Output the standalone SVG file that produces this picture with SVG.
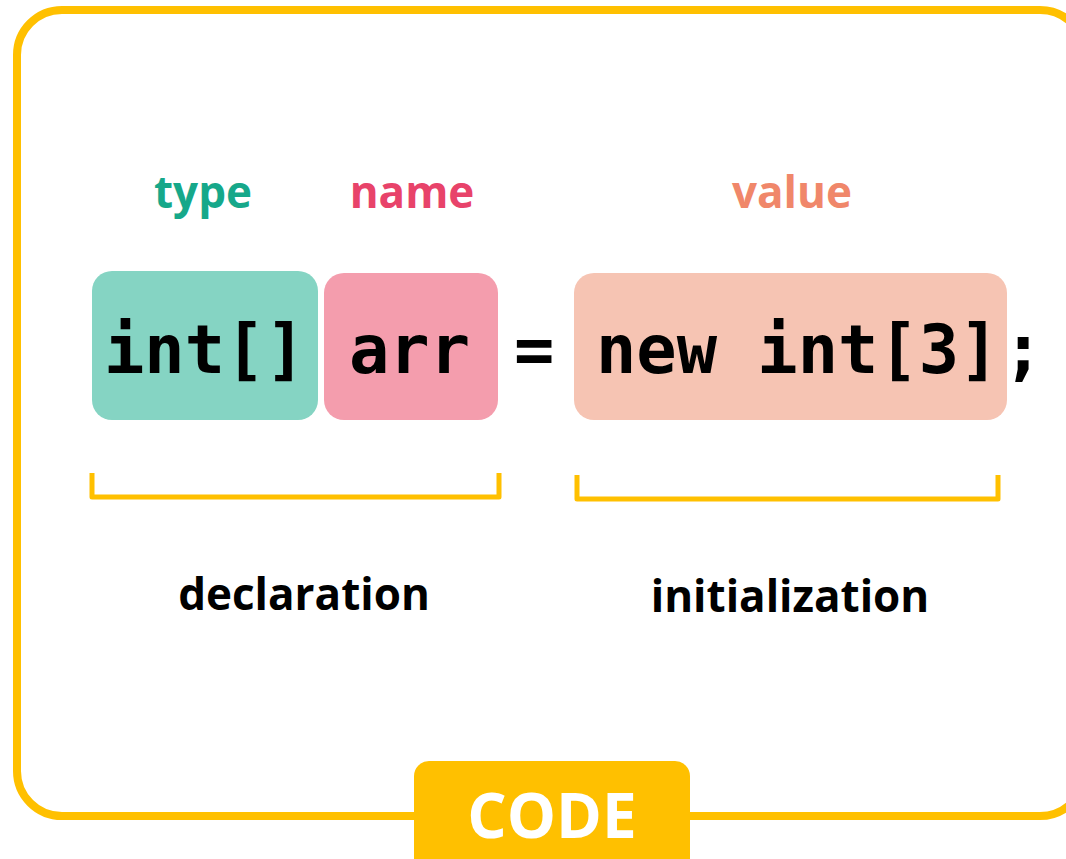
<svg xmlns="http://www.w3.org/2000/svg" width="1066" height="859" viewBox="0 0 1066 859">
<style>
.lbl{font-family:"Open Sans","Liberation Sans",sans-serif;font-weight:700;font-size:44px;text-anchor:middle}
.code{font-family:"DejaVu Sans Mono","Liberation Mono",monospace;font-weight:700;font-size:67px;fill:#000}
.br{fill:none;stroke:#FFC000;stroke-width:5;stroke-linejoin:round}
</style>
<rect width="1066" height="859" fill="#fff"/>
<g id="frame">
<rect x="17" y="10" width="1068" height="806" rx="45" fill="none" stroke="#FFC000" stroke-width="8"/>
</g>
<g id="type">
<rect x="92" y="271" width="226" height="149" rx="20" fill="#85D4C3"/>
<text class="lbl" x="203" y="208" fill="#16A88A">type</text>
<text class="code" x="104" y="373">int[]</text>
</g>
<g id="name">
<rect x="324" y="273" width="174" height="147" rx="20" fill="#F49DAD"/>
<text class="lbl" x="412" y="208" fill="#E8436A">name</text>
<text class="code" x="349" y="373">arr</text>
</g>
<g id="equals">
<text class="code" x="514" y="373">=</text>
</g>
<g id="value">
<rect x="574" y="273" width="433" height="147" rx="20" fill="#F6C4B3"/>
<text class="lbl" x="792" y="208" fill="#F0876A">value</text>
<text class="code" x="596" y="373">new int[3]</text>
<text class="code" x="1003" y="373">;</text>
</g>
<g id="connectors">
<path class="br" d="M92 473 V497 H499 V473"/>
<path class="br" d="M577 475 V499 H998 V475"/>
</g>
<g id="declaration">
<text class="lbl" x="304" y="610" fill="#000">declaration</text>
</g>
<g id="initialization">
<text class="lbl" x="790" y="612" fill="#000">initialization</text>
</g>
<g id="code-tag">
<rect x="414" y="761" width="276" height="120" rx="15" fill="#FFC000"/>
<text x="552" y="838" font-family="Open Sans, Liberation Sans, sans-serif" font-weight="700" font-size="62" fill="#fff" text-anchor="middle">CODE</text>
</g>
</svg>
